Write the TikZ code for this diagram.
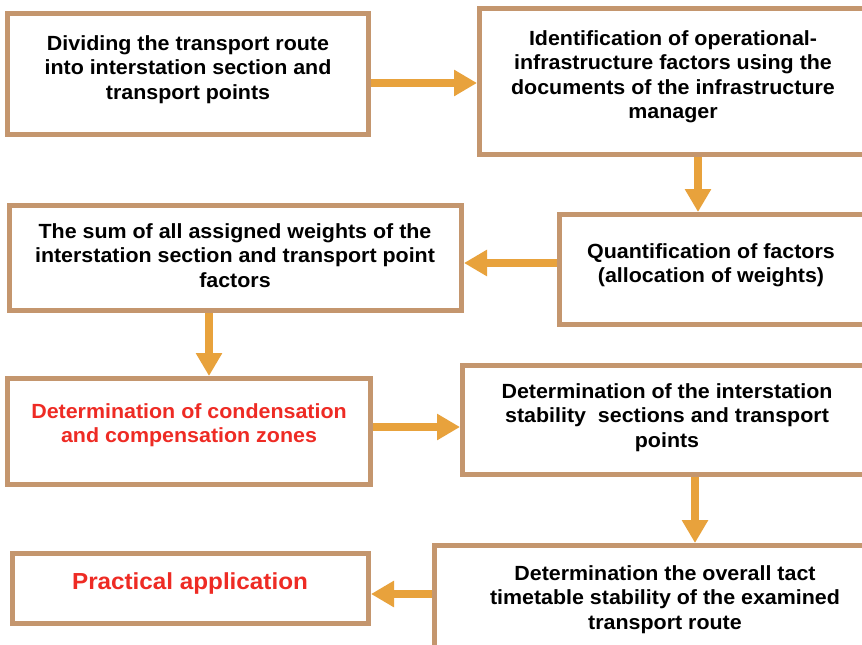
\documentclass[tikz,border=0pt]{standalone}
\usepackage{fontspec}
\setmainfont[FakeStretch=1.045]{Liberation Sans}
\usetikzlibrary{arrows.meta}
\definecolor{bordc}{HTML}{C4966E}
\definecolor{arrc}{HTML}{E8A23C}
\definecolor{redt}{HTML}{EE2B24}
\tikzset{
  box/.style={draw=bordc, line width=5pt, fill=white, rectangle, inner sep=0pt},
  txt/.style={font=\bfseries\fontsize{20.5}{24.6}\selectfont, align=center, inner sep=0pt, anchor=north},
  redtxt/.style={txt, text=redt},
  arr/.style={draw=arrc, line width=8pt, -{Triangle[length=23pt,width=25pt]}},
}
\begin{document}
\begin{tikzpicture}[x=1pt,y=-1pt]
\useasboundingbox (0,0) rectangle (862,645);
\fill[white] (0,0) rectangle (862,645);
\clip (0,0) rectangle (862,645);
% boxes
\node[box, minimum width=361pt, minimum height=121pt] (b1) at (188,74) {};
\node[box, minimum width=393pt, minimum height=146pt] (b2) at (676,81.5) {};
\node[box, minimum width=452pt, minimum height=105pt] (b3) at (235.5,258) {};
\node[box, minimum width=313pt, minimum height=110pt] (b4) at (716,269.5) {};
\node[box, minimum width=363pt, minimum height=106pt] (b5) at (189,431.5) {};
\node[box, minimum width=412pt, minimum height=109pt] (b6) at (668.5,420) {};
\node[box, minimum width=356pt, minimum height=70pt] (b7) at (190.5,588.5) {};
\node[box, minimum width=440pt, minimum height=120pt] (b8) at (654.5,605.5) {};
% texts
\node[txt] (t1) at (188,35) {Dividing the transport route\\into interstation section and\\transport points};
\node[txt] (t2) at (673,30) {Identification of operational-\\infrastructure factors using the\\documents of the infrastructure\\manager};
\node[txt] (t3) at (235,223) {The sum of all assigned weights of the\\interstation section and transport point\\factors};
\node[txt] (t4) at (711,243) {Quantification of factors\\(allocation of weights)};
\node[redtxt] (t5) at (189,403) {Determination of condensation\\and compensation zones};
\node[txt] (t6) at (667,383) {Determination of the interstation\\stability\ \ sections and transport\\points};
\node[redtxt, font=\bfseries\fontsize{23.2}{28}\selectfont] (t7) at (190,572) {Practical application};
\node[txt] (t8) at (665,565) {Determination the overall tact\\timetable stability of the examined\\transport route};
% arrows
\draw[arr] ([yshift=-9pt]b1.east) -- ([yshift=-1.5pt]b2.west);
\draw[arr] ([xshift=22pt]b2.south) -- ([xshift=-18pt]b4.north);
\draw[arr] ([yshift=6.5pt]b4.west) -- ([yshift=-5pt]b3.east);
\draw[arr] ([xshift=-26.5pt]b3.south) -- ([xshift=20pt]b5.north);
\draw[arr] ([yshift=4.5pt]b5.east) -- ([yshift=-7pt]b6.west);
\draw[arr] ([xshift=26.5pt]b6.south) -- ([xshift=40.5pt]b8.north);
\draw[arr] ([yshift=11.5pt]b8.west) -- ([yshift=-5.5pt]b7.east);
\end{tikzpicture}
\end{document}
